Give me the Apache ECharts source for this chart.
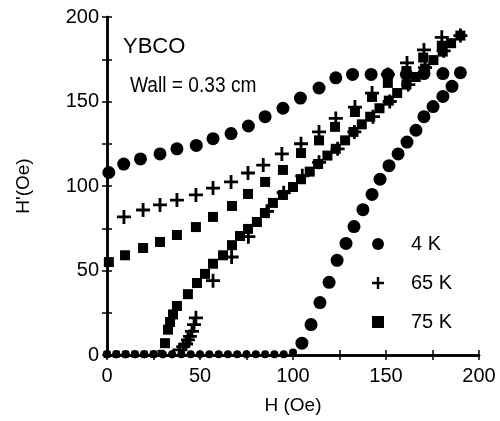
<!DOCTYPE html>
<html>
<head>
<meta charset="utf-8">
<script src="https://cdn.jsdelivr.net/npm/echarts@6/dist/echarts.min.js"></script>
<style>
    html, body { margin: 0; padding: 0; background: #fff; }
    #chart { width: 500px; height: 421px; }
</style>
</head>
<body>
<div id="chart"></div>
<script>
// H' versus H for YBCO, three temperatures
// each series = increasing branch + decreasing branch, [H, H']
var k4Increasing = [[0, 0.5], [5, 0.5], [10, 0.5], [15, 0.5], [20, 0.5], [25, 0.5], [30, 0.5], [35, 0.5], [40, 0.5], [45, 0.5], [50, 0.5], [55, 0.5], [60, 0.5], [65, 0.5], [70, 0.5], [75, 0.5], [80, 0.5], [85, 0.5], [90, 0.5], [95, 0.5], [100, 1.5],
    [104.8, 7], [109.7, 18], [114.5, 31], [119.4, 43], [123.7, 56], [128.5, 66], [132.8, 76], [137.6, 86], [142.5, 95], [146.8, 104], [151.6, 112], [156.5, 119], [161.3, 126], [166.1, 133], [170.4, 141], [175.3, 147], [180.6, 153], [185.5, 159], [190, 167]];
var k4Decreasing = [[180.6, 166.5], [170.4, 166.5], [161, 166], [151, 166], [142, 166], [132, 166], [123, 164], [114, 158], [104, 152], [94.6, 146], [85, 141], [76, 135.5], [66.7, 131], [57, 128], [48, 124], [37.6, 122], [28.5, 119], [18, 116], [9, 113], [1, 108]];

var k65Increasing = [[0, 0.5], [5, 0.5], [10, 0.5], [15, 0.5], [20, 0.5], [25, 0.5], [30, 0.5], [35, 0.5],
    [39, 3], [41, 5], [42.5, 6.5], [43.5, 9], [44.6, 11], [45.7, 14], [46.8, 18], [47.8, 22],
    [57, 44], [67, 58], [76, 70], [86, 85], [95, 96], [105, 106], [114, 114], [124, 122], [133, 132], [143, 141], [152, 150], [162, 160], [171, 170], [181, 180]];
var k65Decreasing = [[190, 189], [180, 188], [170.4, 180.5], [161.3, 172.8], [151, 166], [142.5, 155], [133.3, 146.7], [123, 140], [114, 132], [104.3, 125], [94, 119], [84, 112.4], [75.8, 107.7], [66.7, 102.4], [57, 98.8], [47.8, 94.7], [37.6, 91.7], [28.5, 88.8], [19.4, 85.8], [9.1, 81.7]];

var k75Increasing = [[0, 0.5], [5, 0.5], [10, 0.5], [15, 0.5], [20, 0.5], [25, 0.5], [29, 1],
    [31.2, 7], [32.8, 15], [33.9, 19.5], [35.5, 24], [37.6, 29], [43.5, 36], [48.4, 42.6], [52.7, 48], [57, 54], [62.4, 59], [67.2, 65], [71.5, 70.4], [75.8, 74.6], [80.6, 78.7], [84.9, 84], [89.2, 90], [94.6, 94.7], [100, 99.4],
    [104.3, 104], [109, 108.5], [113.5, 113], [118.5, 118], [123, 122], [128, 127], [132.5, 132], [137, 136.5], [141.5, 141], [146.5, 146], [151.5, 150.5], [156, 155], [161, 160], [166, 164.5], [171, 169.5], [175.5, 174.5], [180.5, 179.5], [185, 184.5]];
var k75Decreasing = [[190, 189], [180, 183], [170, 176], [161, 168], [151, 161], [142.5, 152.7], [133.3, 143.8], [122.6, 135], [114, 127], [104.3, 119.5], [94.6, 109.5], [85, 102.4], [75.8, 95.3], [67.2, 88.2], [57, 81.7], [47.8, 75.7], [37.6, 71], [28.5, 66.9], [19.4, 63.3], [9.7, 59], [1, 55]];

var seriesNames = ['4 K', '65 K', '75 K'];
var axisTicks = [0, 50, 100, 150, 200];

var FONT = '"Liberation Sans", Arial, Helvetica, sans-serif';
var CROSS = 'path://M4,0H6V4H10V6H6V10H4V6H0V4H4Z';
var SQUARE = 'path://M0,0H10V10H0Z';

var chart = echarts.init(document.getElementById('chart'));

function axisLabelFmt(v) {
    return axisTicks.indexOf(v) >= 0 ? String(v) : '';
}
// 基线上的点画小一点
function sizeBy(big, small) {
    return function (val) { return val[1] < 2 ? small : big; };
}

var lineStyle = { color: '#000', width: 2.5 };
var tickStyle = { inside: true, length: 5, lineStyle: { color: '#000', width: 1.5 } };

var option = {
    backgroundColor: '#fff',
    animation: false,
    textStyle: { fontFamily: FONT },
    grid: { left: 107, right: 21, top: 17, bottom: 66, outerBoundsMode: 'none' },
    xAxis: [{
        type: 'value', min: 0, max: 200, interval: 25, position: 'bottom',
        name: 'H (Oe)', nameLocation: 'middle', nameGap: 41,
        nameTextStyle: { fontSize: 19, color: '#000', fontFamily: FONT },
        axisLine: { lineStyle: lineStyle },
        axisTick: tickStyle,
        axisLabel: { formatter: axisLabelFmt, fontSize: 20, color: '#000', margin: 11, fontFamily: FONT },
        splitLine: { show: false }
    }, {
        type: 'value', min: 0, max: 200, interval: 25, position: 'top',
        axisLine: { lineStyle: lineStyle },
        axisTick: tickStyle,
        axisLabel: { show: false },
        splitLine: { show: false }
    }],
    yAxis: [{
        type: 'value', min: 0, max: 200, interval: 25, position: 'left',
        name: "H'(Oe)", nameLocation: 'middle', nameGap: 74, nameRotate: 90,
        nameTextStyle: { fontSize: 19, color: '#000', fontFamily: FONT },
        axisLine: { lineStyle: lineStyle },
        axisTick: tickStyle,
        axisLabel: { formatter: axisLabelFmt, fontSize: 20, color: '#000', margin: 8, fontFamily: FONT },
        splitLine: { show: false }
    }, {
        type: 'value', min: 0, max: 200, interval: 25, position: 'right',
        axisLine: { lineStyle: lineStyle },
        axisTick: tickStyle,
        axisLabel: { show: false },
        splitLine: { show: false }
    }],
    legend: {
        orient: 'vertical', left: 367, top: 229, padding: 5,
        itemWidth: 56, itemHeight: 12, itemGap: 19,
        selectedMode: false,
        data: [
            { name: seriesNames[0], itemStyle: { color: '#000' } },
            { name: seriesNames[1], itemStyle: { color: '#000' } },
            { name: seriesNames[2], icon: SQUARE, itemStyle: { color: '#000' } }
        ],
        textStyle: { fontSize: 20, color: '#000', lineHeight: 20, fontFamily: FONT }
    },
    graphic: [
        { type: 'text', x: 123, y: 47, style: { text: 'YBCO', font: '22px ' + FONT, fill: '#000', verticalAlign: 'middle' } },
        { type: 'text', x: 130, y: 86, scaleX: 0.87, style: { text: 'Wall = 0.33 cm', font: '22px ' + FONT, fill: '#000', verticalAlign: 'middle' } }
    ],
    series: [{
        name: seriesNames[0], type: 'scatter', clip: false,
        symbol: 'circle', symbolSize: sizeBy(13, 8),
        itemStyle: { color: '#000', opacity: 1 },
        data: k4Increasing.concat(k4Decreasing)
    }, {
        name: seriesNames[1], type: 'scatter', clip: false,
        symbol: CROSS, symbolSize: sizeBy(14, 8),
        itemStyle: { color: '#000', opacity: 1 },
        data: k65Increasing.concat(k65Decreasing)
    }, {
        name: seriesNames[2], type: 'scatter', clip: false,
        symbol: SQUARE, symbolSize: sizeBy(10, 7),
        itemStyle: { color: '#000', opacity: 1 },
        data: k75Increasing.concat(k75Decreasing)
    }]
};

chart.setOption(option);
</script>
</body>
</html>
